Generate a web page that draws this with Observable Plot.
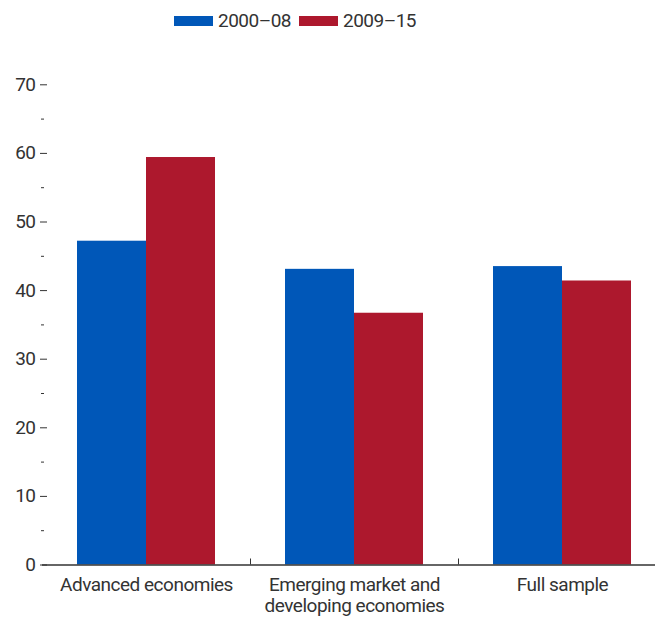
<!DOCTYPE html>
<html><head><meta charset="utf-8">
<script src="https://cdn.jsdelivr.net/npm/d3@7"></script>
<script src="https://cdn.jsdelivr.net/npm/@observablehq/plot@0.6"></script>
<style>
body{margin:0;background:#fff;font-family:Roboto,"Liberation Sans",sans-serif;}
#legend{height:40px;position:relative;font-size:19px;color:#333;letter-spacing:-0.5px;}
.item{position:absolute;top:0;display:flex;align-items:center;height:41px;white-space:nowrap}
.sw{width:39px;height:10px;margin-right:5px}
</style></head><body>
<div id="legend"></div><div id="chart"></div>
<script>
const categories = ["Advanced economies", "Emerging market and\ndeveloping economies", "Full sample"];
const series = ["2000–08", "2009–15"];
const values2000 = [47.2, 43.1, 43.5];
const values2009 = [59.4, 36.7, 41.4];
const yMajor = [0, 10, 20, 30, 40, 50, 60, 70];
const yMinor = [5, 15, 25, 35, 45, 55, 65];
const colors = ["#0057b8", "#ad182d"];

const data = categories.flatMap((c, i) => [
  {category: c, series: series[0], value: values2000[i]},
  {category: c, series: series[1], value: values2009[i]}
]);

const legend = document.getElementById("legend");
const legendLeft = [174, 299];
series.forEach((s, i) => {
  const it = document.createElement("div");
  it.className = "item";
  it.style.left = legendLeft[i] + "px";
  it.innerHTML = `<span class="sw" style="background:${colors[i]}"></span><span>${s}</span>`;
  legend.appendChild(it);
});

const fxRange = [42, 666];
const bandW = (fxRange[1] - fxRange[0]) / categories.length;
const font = 'Roboto,"Liberation Sans",sans-serif';

const chart = Plot.plot({
  width: 655, height: 579,
  marginLeft: 42, marginRight: 0, marginTop: 44.3, marginBottom: 54.5,
  style: {fontFamily: font, color: "#333", background: "#fff", overflow: "hidden", letterSpacing: "-0.5px"},
  fx: {domain: categories, range: fxRange, padding: 0, label: null},
  x: {domain: series, paddingInner: 0, paddingOuter: 0.486, axis: null},
  y: {domain: [0, 70], label: null},
  color: {domain: series, range: colors},
  marks: [
    Plot.barY(data, {fx: "category", x: "series", y: "value", fill: "series"}),
    Plot.ruleY([0], {stroke: "#333", strokeWidth: 1.3}),
    Plot.ruleX(categories.slice(1), {fx: d => d, x: null, y1: 0, y2: 0, insetTop: -6, dx: -bandW / 2, stroke: "#333"}),
    Plot.axisY(yMajor, {anchor: "left", tickSize: 7, tickPadding: 5, dx: 5, fontSize: 19, label: null}),
    Plot.axisY(yMinor, {anchor: "left", tickSize: 3, tickFormat: () => "", dx: 2, label: null}),
    Plot.axisFx({anchor: "bottom", tickSize: 0, tickPadding: 11, fontSize: 19, lineHeight: 1.12, label: null})
  ]
});
document.getElementById("chart").appendChild(chart);
</script>
</body></html>
